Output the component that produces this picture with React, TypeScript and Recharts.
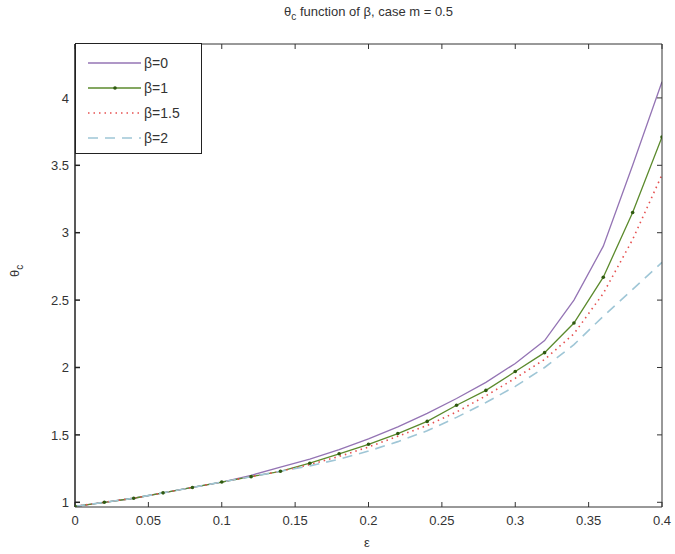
import React from "react";
import {
  LineChart,
  Line,
  XAxis,
  YAxis,
  Legend,
} from "recharts";

// epsilon samples (step 0.02)
const epsilon = [0, 0.02, 0.04, 0.06, 0.08, 0.1, 0.12, 0.14, 0.16, 0.18, 0.2, 0.22, 0.24, 0.26, 0.28, 0.3, 0.32, 0.34, 0.36, 0.38, 0.4];

// theta_c for each beta
const beta0 = [0.97, 1.0, 1.03, 1.07, 1.11, 1.15, 1.2, 1.26, 1.32, 1.39, 1.47, 1.56, 1.66, 1.77, 1.89, 2.03, 2.2, 2.5, 2.9, 3.5, 4.12];
const beta1 = [0.97, 1.0, 1.03, 1.07, 1.11, 1.15, 1.19, 1.23, 1.29, 1.36, 1.43, 1.51, 1.6, 1.72, 1.83, 1.97, 2.11, 2.33, 2.67, 3.15, 3.71];
const beta15 = [0.97, 1.0, 1.03, 1.07, 1.11, 1.15, 1.19, 1.23, 1.28, 1.34, 1.41, 1.49, 1.57, 1.67, 1.79, 1.92, 2.06, 2.25, 2.55, 2.95, 3.43];
const beta2 = [0.97, 1.0, 1.03, 1.07, 1.11, 1.15, 1.19, 1.23, 1.27, 1.32, 1.38, 1.45, 1.53, 1.63, 1.74, 1.86, 2.0, 2.17, 2.38, 2.58, 2.78];

const xTicks = [0, 0.05, 0.1, 0.15, 0.2, 0.25, 0.3, 0.35, 0.4];
const yTicks = [1, 1.5, 2, 2.5, 3, 3.5, 4];

const data = epsilon.map((e, i) => ({
  eps: e,
  b0: beta0[i],
  b1: beta1[i],
  b15: beta15[i],
  b2: beta2[i],
}));

const series = [
  { key: "b0", name: "β=0", color: "#9474b4", dash: undefined, width: 1.3, dot: false },
  { key: "b1", name: "β=1", color: "#5b8a2c", dash: undefined, width: 1.3, dot: true },
  { key: "b15", name: "β=1.5", color: "#e65050", dash: "1.5 4", width: 1.6, dot: false },
  { key: "b2", name: "β=2", color: "#9fc6d6", dash: "10 7", width: 1.6, dot: false },
];

const font = '"Liberation Sans", Arial, sans-serif';
const tickStyle = { fontSize: 13, fill: "#333", fontFamily: font };

const renderLegend = () => (
  <div
    style={{
      border: "1px solid #222",
      background: "#fff",
      width: 127,
      height: 111,
      boxSizing: "border-box",
      paddingTop: 6,
    }}
  >
    {series.map((s) => (
      <div key={s.key} style={{ display: "flex", alignItems: "center", height: 25 }}>
        <svg width={58} height={10} style={{ marginLeft: 10 }}>
          <line
            x1={2}
            y1={5}
            x2={55}
            y2={5}
            stroke={s.color}
            strokeWidth={s.width}
            strokeDasharray={s.dash}
          />
          {s.dot && <circle cx={29} cy={5} r={1.8} fill="#2f5a10" />}
        </svg>
        <span style={{ fontSize: 14, color: "#333", fontFamily: font }}>{s.name}</span>
      </div>
    ))}
  </div>
);

const App: React.FC = () => {
  return (
    <div
      style={{
        position: "absolute",
        left: 0,
        top: 0,
        width: 675,
        height: 554,
        background: "#fff",
        fontFamily: font,
      }}
    >
      <div
        style={{
          position: "absolute",
          top: 4,
          left: 75,
          width: 587,
          textAlign: "center",
          fontSize: 13,
          color: "#333",
        }}
      >
        θ<sub style={{ fontSize: 10 }}>c</sub> function of β, case m = 0.5
      </div>
      <div
        style={{
          position: "absolute",
          left: 10,
          top: 262,
          fontSize: 13,
          color: "#333",
          transform: "rotate(-90deg)",
        }}
      >
        θ<sub style={{ fontSize: 10 }}>c</sub>
      </div>
      <div
        style={{
          position: "absolute",
          left: 364,
          top: 535,
          fontSize: 13,
          color: "#333",
        }}
      >
        ε
      </div>
      <LineChart
        width={675}
        height={554}
        data={data}
        margin={{ top: 43, right: 12, left: 35, bottom: 17 }}
      >
        <XAxis
          xAxisId="bottom"
          dataKey="eps"
          type="number"
          domain={[0, 0.4]}
          ticks={xTicks}
          tickFormatter={(v) => `${v}`}
          tick={tickStyle}
          tickSize={-5}
          tickMargin={14}
          height={30}
          stroke="#333"
          allowDataOverflow
        />
        <XAxis
          xAxisId="top"
          orientation="top"
          dataKey="eps"
          type="number"
          domain={[0, 0.4]}
          ticks={xTicks}
          tickFormatter={() => ""}
          tickSize={-5}
          height={1}
          stroke="#333"
          allowDataOverflow
        />
        <YAxis
          yAxisId="left"
          type="number"
          domain={[0.965, 4.4]}
          ticks={yTicks}
          tickFormatter={(v) => `${v}`}
          tick={tickStyle}
          tickSize={-5}
          tickMargin={11}
          width={40}
          stroke="#222"
          strokeWidth={1.5}
          allowDataOverflow
        />
        <YAxis
          yAxisId="right"
          orientation="right"
          type="number"
          domain={[0.965, 4.4]}
          ticks={yTicks}
          tickFormatter={() => ""}
          tickSize={-5}
          width={1}
          stroke="#333"
          allowDataOverflow
        />
        <Legend
          layout="vertical"
          align="center"
          verticalAlign="middle"
          content={renderLegend}
          wrapperStyle={{ left: 75, top: 43, width: 127, height: 111 }}
        />
        {series.map((s) => (
          <Line
            key={s.key}
            xAxisId="bottom"
            yAxisId="left"
            type="linear"
            dataKey={s.key}
            name={s.name}
            stroke={s.color}
            strokeWidth={s.width}
            strokeDasharray={s.dash}
            dot={s.dot ? { r: 1.8, fill: "#2f5a10", stroke: "none" } : false}
            activeDot={false}
            isAnimationActive={false}
          />
        ))}
      </LineChart>
    </div>
  );
};

export default App;
